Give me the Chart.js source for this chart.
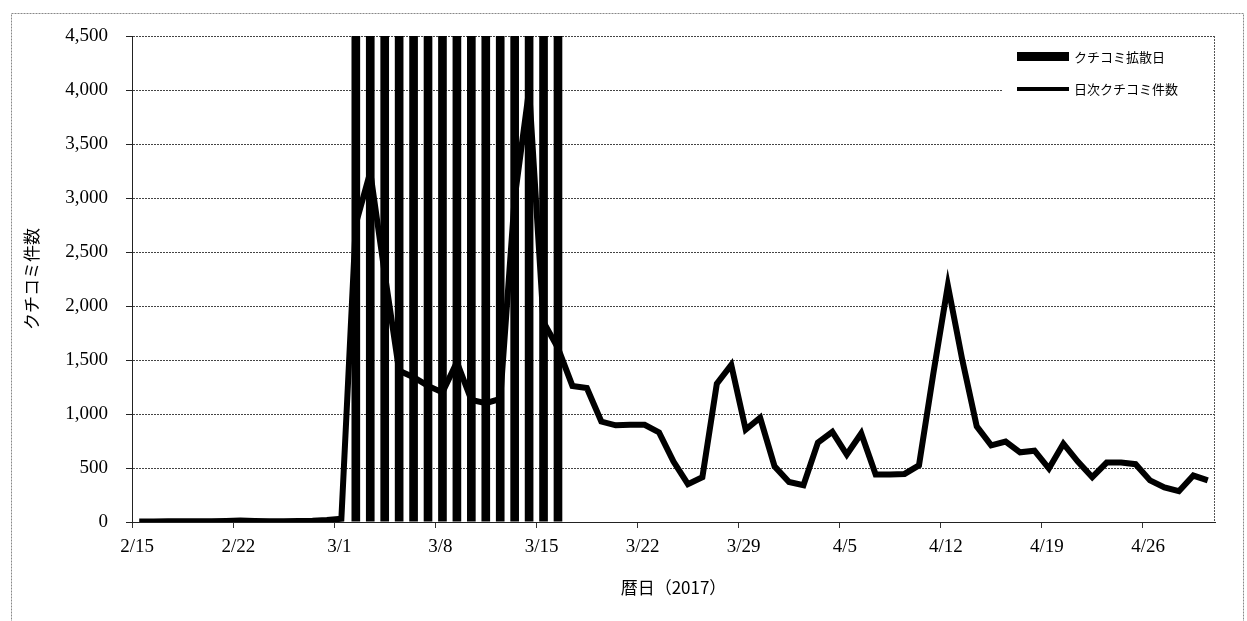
<!DOCTYPE html>
<html lang="ja">
<head>
<meta charset="utf-8">
<title>クチコミ件数</title>
<script src="https://cdn.jsdelivr.net/npm/chart.js@4.4.0/dist/chart.umd.min.js"></script>
<style>
  html, body { margin: 0; padding: 0; background: #fff; }
  #wrap { width: 1247px; height: 621px; }
</style>
</head>
<body>
<div id="wrap"><canvas id="chart" width="1247" height="621"></canvas></div>
<script>
// daily categories 2/15 .. 4/30 (2017)
const dates = [
  '2/15','2/16','2/17','2/18','2/19','2/20','2/21','2/22','2/23','2/24','2/25','2/26','2/27','2/28',
  '3/1','3/2','3/3','3/4','3/5','3/6','3/7','3/8','3/9','3/10','3/11','3/12','3/13','3/14','3/15','3/16',
  '3/17','3/18','3/19','3/20','3/21','3/22','3/23','3/24','3/25','3/26','3/27','3/28','3/29','3/30','3/31',
  '4/1','4/2','4/3','4/4','4/5','4/6','4/7','4/8','4/9','4/10','4/11','4/12','4/13','4/14','4/15',
  '4/16','4/17','4/18','4/19','4/20','4/21','4/22','4/23','4/24','4/25','4/26','4/27','4/28','4/29','4/30'
];
// 日次クチコミ件数
const dailyCounts = [
  5, 5, 6, 6, 8, 8, 10, 14, 10, 8, 8, 10, 12, 18,
  30, 2760, 3240, 2300, 1400, 1340, 1260, 1200, 1480, 1130, 1100, 1140, 3000, 4000, 1850, 1610,
  1260, 1240, 930, 895, 900, 900, 830, 560, 350, 415, 1280, 1455, 855, 965, 515,
  370, 340, 735, 835, 625, 820, 440, 440, 445, 525, 1380, 2190, 1500, 885, 710,
  745, 645, 660, 495, 725, 560, 415, 550, 550, 535, 385, 320, 285, 430, 385
];
// クチコミ拡散日 (bars run to the top of the axis)
const spreadDays = ['3/2','3/3','3/4','3/5','3/6','3/7','3/8','3/9','3/10','3/11','3/12','3/13','3/14','3/15','3/16'];
const spreadBars = [4500, 4500, 4500, 4500, 4500, 4500, 4500, 4500, 4500, 4500, 4500, 4500, 4500, 4500, 4500];
// one labelled tick a week
const labelEvery = 7;

const serif = '"Liberation Serif", "DejaVu Serif", serif';
const gothic = '"Noto Sans CJK JP", "Noto Sans", sans-serif';

// white background, outer frame, plot right border and legend
const decorations = {
  id: 'decorations',
  beforeDraw(chart) {
    const ctx = chart.ctx;
    ctx.save();
    ctx.fillStyle = '#fff';
    ctx.fillRect(0, 0, chart.width, chart.height);
    ctx.restore();
  },
  afterDraw(chart) {
    const {ctx, chartArea: a} = chart;
    ctx.save();
    ctx.strokeStyle = '#888';
    ctx.lineWidth = 1;
    ctx.setLineDash([2, 1]);
    ctx.strokeRect(11.5, 13.5, 1232, 700);
    ctx.strokeStyle = '#555';
    ctx.beginPath();
    ctx.moveTo(a.right - 0.5, a.top);
    ctx.lineTo(a.right - 0.5, a.bottom);
    ctx.stroke();
    ctx.setLineDash([]);

    // legend
    ctx.fillStyle = '#fff';
    ctx.fillRect(a.right - 212, a.top + 3, 210, 66);
    const ds = chart.data.datasets;
    const bar = ds.find(d => d.type === 'bar');
    const line = ds.find(d => d.type === 'line');
    ctx.fillStyle = '#000';
    ctx.fillRect(a.right - 198, a.top + 16, 52, 9);
    ctx.strokeStyle = '#000';
    ctx.lineWidth = 4;
    ctx.beginPath();
    ctx.moveTo(a.right - 198, a.top + 53);
    ctx.lineTo(a.right - 146, a.top + 53);
    ctx.stroke();
    ctx.font = '13px ' + gothic;
    ctx.textBaseline = 'middle';
    ctx.textAlign = 'left';
    ctx.fillText(bar.label, a.right - 141, a.top + 21);
    ctx.fillText(line.label, a.right - 141, a.top + 53);
    ctx.restore();
  }
};

new Chart(document.getElementById('chart'), {
  type: 'bar',
  data: {
    labels: dates,
    datasets: [
      {
        type: 'line',
        label: '日次クチコミ件数',
        data: dailyCounts,
        borderColor: '#000',
        borderWidth: 6,
        borderJoinStyle: 'miter',
        pointRadius: 0,
        tension: 0,
        order: 0
      },
      {
        type: 'bar',
        label: 'クチコミ拡散日',
        data: spreadDays.map((d, i) => ({x: d, y: spreadBars[i]})),
        backgroundColor: '#000',
        borderWidth: 0,
        categoryPercentage: 1,
        barPercentage: 0.6,
        order: 1
      }
    ]
  },
  options: {
    responsive: false,
    animation: false,
    events: [],
    layout: { padding: { top: 36, right: 32, left: 0, bottom: 0 } },
    plugins: {
      legend: { display: false },
      tooltip: { enabled: false }
    },
    scales: {
      x: {
        type: 'category',
        offset: true,
        afterFit: (s) => { s.height = 99; },
        grid: {
          offset: true,
          drawOnChartArea: false,
          drawTicks: true,
          tickLength: 6,
          color: '#333',
          tickColor: (c) => c.index % labelEvery === 0 ? '#333' : 'rgba(0,0,0,0)'
        },
        border: { display: true, color: '#222', width: 1 },
        ticks: {
          autoSkip: false,
          maxRotation: 0,
          padding: 8,
          labelOffset: -2,
          color: '#000',
          font: { family: serif, size: 19 },
          callback: (v, i) => i % labelEvery === 0 ? dates[i] : ''
        },
        title: {
          display: true,
          text: '暦日（2017）',
          color: '#000',
          font: { family: gothic, size: 17 },
          padding: { top: 0, bottom: 23 }
        }
      },
      y: {
        min: 0,
        max: 4500,
        afterFit: (s) => { s.width = 132; },
        grid: {
          color: '#444',
          lineWidth: 1,
          tickLength: 6,
          tickColor: '#222'
        },
        border: { display: true, color: '#222', width: 1, dash: [2, 1] },
        ticks: {
          stepSize: 500,
          padding: 18,
          color: '#000',
          font: { family: serif, size: 19 },
          callback: (v) => v.toLocaleString('en-US')
        },
        title: {
          display: true,
          text: 'クチコミ件数',
          color: '#000',
          font: { family: gothic, size: 17 },
          padding: { top: 21, bottom: 0 }
        }
      }
    }
  },
  plugins: [decorations]
});
</script>
</body>
</html>
